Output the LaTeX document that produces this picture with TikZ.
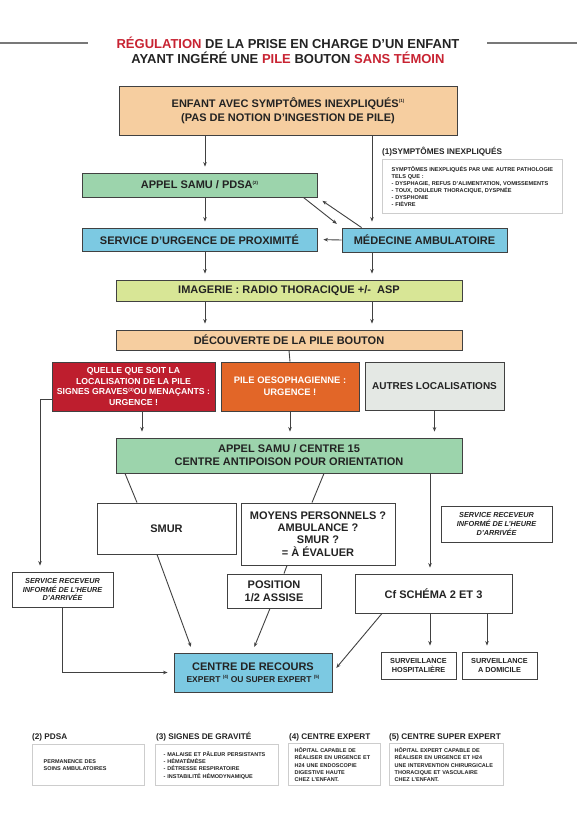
\documentclass[tikz,border=0pt]{standalone}
\usepackage{fontspec}
\setmainfont{Liberation Sans}
\usetikzlibrary{arrows.meta,calc}
\definecolor{peach}{RGB}{246,206,160}
\definecolor{samugreen}{RGB}{156,212,172}
\definecolor{urgblue}{RGB}{124,201,226}
\definecolor{imglime}{RGB}{216,230,150}
\definecolor{gravered}{RGB}{190,30,46}
\definecolor{oesoorange}{RGB}{226,102,40}
\definecolor{autregray}{RGB}{228,232,228}
\definecolor{edge}{RGB}{65,65,65}
\definecolor{txt}{RGB}{35,35,35}
\definecolor{titlered}{RGB}{200,35,50}
\definecolor{legendedge}{RGB}{205,205,205}
\definecolor{rulegray}{RGB}{120,120,120}
\newcommand{\refnote}[1]{\raisebox{0.8ex}{\fontsize{4.5}{5}\selectfont(#1)}}

\begin{document}
\begin{tikzpicture}[
        x=1pt, y=-1pt,
        every node/.style={inner sep=0pt, text=txt},
        bx/.style={shape=rectangle, draw=edge, line width=0.9pt, align=center, font=\bfseries\fontsize{11}{13}\selectfont},
        wbx/.style={bx, fill=white},
        recv/.style={wbx, font=\bfseries\itshape\fontsize{7.3}{8.6}\selectfont},
        survbx/.style={wbx, font=\bfseries\fontsize{7.3}{9}\selectfont, minimum width=75pt, minimum height=27pt},
        notelabel/.style={anchor=west, font=\bfseries\fontsize{8.2}{9}\selectfont},
        notebox/.style={shape=rectangle, draw=legendedge, line width=1.4pt, anchor=north west, align=left, font=\bfseries\fontsize{5.5}{7.3}\selectfont},
        arr/.style={-{Stealth[length=4.5pt,width=3.6pt]}, draw=edge, line width=0.9pt, shorten >=6pt},
        ln/.style={draw=edge, line width=0.9pt},
        titlerule/.style={draw=rulegray, line width=1.2pt},
        ]
        \path[use as bounding box, fill=white] (0,0) rectangle (577,815);
        %
        \draw[titlerule] (0,43) -- (88,43);
        \draw[titlerule] (487,43) -- (577,43);
        \node(title)[font=\bfseries\fontsize{13}{15}\selectfont, align=center] at (288,50.5)
          {\textcolor{titlered}{RÉGULATION} DE LA PRISE EN CHARGE D’UN ENFANT\\AYANT INGÉRÉ UNE \textcolor{titlered}{PILE} BOUTON \textcolor{titlered}{SANS TÉMOIN}};
        %
        \node(enfant)[bx, fill=peach, font=\bfseries\fontsize{11}{14}\selectfont, minimum width=338pt, minimum height=49pt] at (288,110.5)
          {ENFANT AVEC SYMPTÔMES INEXPLIQUÉS\refnote{1}\\(PAS DE NOTION D’INGESTION DE PILE)};
        \node(pdsa)[bx, fill=samugreen, minimum width=235pt, minimum height=24pt] at (199.5,185) {APPEL SAMU / PDSA\refnote{2}};
        \node(sup)[bx, fill=urgblue, minimum width=235pt, minimum height=23pt] at (199.5,239.5) {SERVICE D’URGENCE DE PROXIMITÉ};
        \node(medamb)[bx, fill=urgblue, minimum width=165pt, minimum height=24pt] at (424.5,240) {MÉDECINE AMBULATOIRE};
        \node(imagerie)[bx, fill=imglime, minimum width=346pt, minimum height=21pt] at (289,290.5) {IMAGERIE : RADIO THORACIQUE +/-\ \ ASP};
        \node(decouverte)[bx, fill=peach, minimum width=346pt, minimum height=20pt] at (289,340) {DÉCOUVERTE DE LA PILE BOUTON};
        \node(grave)[bx, fill=gravered, text=white, font=\bfseries\fontsize{8.7}{10.5}\selectfont, minimum width=163pt, minimum height=49pt] at (133.5,386.5)
          {QUELLE QUE SOIT LA\\LOCALISATION DE LA PILE\\SIGNES GRAVES\refnote{3}OU MENAÇANTS :\\URGENCE !};
        \node(oeso)[bx, fill=oesoorange, text=white, font=\bfseries\fontsize{9.4}{12.3}\selectfont, minimum width=138pt, minimum height=49pt] at (290,386.5)
          {PILE OESOPHAGIENNE :\\URGENCE !};
        \node(autres)[bx, fill=autregray, font=\bfseries\fontsize{10}{12}\selectfont, minimum width=139pt, minimum height=48pt] at (434.5,386) {AUTRES LOCALISATIONS};
        \node(samu15)[bx, fill=samugreen, minimum width=346pt, minimum height=35pt] at (289,455.5)
          {APPEL SAMU / CENTRE 15\\CENTRE ANTIPOISON POUR ORIENTATION};
        \node(smur)[wbx, minimum width=139pt, minimum height=51pt] at (166.5,528.5) {SMUR};
        \node(moyens)[wbx, font=\bfseries\fontsize{11}{12.4}\selectfont, minimum width=154pt, minimum height=62pt] at (318,534)
          {MOYENS PERSONNELS ?\\AMBULANCE ?\\SMUR ?\\= À ÉVALUER};
        \node(position)[wbx, minimum width=94pt, minimum height=34pt] at (274,591) {POSITION\\1/2 ASSISE};
        \node(cfschema)[wbx, minimum width=157pt, minimum height=39pt] at (433.5,593.5) {Cf SCHÉMA 2 ET 3};
        \node(recgauche)[recv, minimum width=101pt, minimum height=35pt] at (62.5,589.5) {SERVICE RECEVEUR\\INFORMÉ DE L’HEURE\\D’ARRIVÉE};
        \node(recdroite)[recv, minimum width=111pt, minimum height=36pt] at (496.5,524) {SERVICE RECEVEUR\\INFORMÉ DE L’HEURE\\D’ARRIVÉE};
        \node(recours)[bx, fill=urgblue, minimum width=158pt, minimum height=39pt] at (253,672.5)
          {CENTRE DE RECOURS\\[-1.5pt]{\fontsize{8.5}{10}\selectfont EXPERT \refnote{4} OU SUPER EXPERT \refnote{5}}};
        \node(survhosp)[survbx] at (418.5,665.5) {SURVEILLANCE\\HOSPITALIÈRE};
        \node(survdom)[survbx] at (499.5,665.5) {SURVEILLANCE\\A DOMICILE};
        %
        \node(noteun)[notelabel] at (382,152) {(1)SYMPTÔMES INEXPLIQUÉS};
        \node(noteunbox)[notebox, text width=162pt, minimum width=180pt, minimum height=54pt, font=\bfseries\fontsize{5.6}{6.9}\selectfont] at (382,159)
          {SYMPTÔMES INEXPLIQUÉS PAR UNE AUTRE PATHOLOGIE\\TELS QUE :\\- DYSPHAGIE, REFUS D’ALIMENTATION, VOMISSEMENTS\\- TOUX, DOULEUR THORACIQUE, DYSPNÉE\\- DYSPHONIE\\- FIÈVRE};
        \node(notedeux)[notelabel] at (32,737) {(2) PDSA};
        \node(notedeuxbox)[notebox, text width=90pt, minimum width=112pt, minimum height=41pt] at (32,744)
          {PERMANENCE DES\\SOINS AMBULATOIRES};
        \node(notetrois)[notelabel] at (156,737) {(3) SIGNES DE GRAVITÉ};
        \node(notetroisbox)[notebox, text width=107pt, minimum width=123pt, minimum height=41pt] at (155,744)
          {- MALAISE ET PÂLEUR PERSISTANTS\\- HÉMATÉMÈSE\\- DÉTRESSE RESPIRATOIRE\\- INSTABILITÉ HÉMODYNAMIQUE};
        \node(notequatre)[notelabel] at (289,737) {(4) CENTRE EXPERT};
        \node(notequatrebox)[notebox, text width=80pt, minimum width=92pt, minimum height=42pt] at (288,743)
          {HÔPITAL CAPABLE DE\\RÉALISER EN URGENCE ET\\H24 UNE ENDOSCOPIE\\DIGESTIVE HAUTE\\CHEZ L’ENFANT.};
        \node(notecinq)[notelabel] at (389,737) {(5) CENTRE SUPER EXPERT};
        \node(notecinqbox)[notebox, text width=104pt, minimum width=114pt, minimum height=42pt] at (389,743)
          {HÔPITAL EXPERT CAPABLE DE\\RÉALISER EN URGENCE ET H24\\UNE INTERVENTION CHIRURGICALE\\THORACIQUE ET VASCULAIRE\\CHEZ L’ENFANT.};
        %
        \coordinate (colL) at (205,0);
        \coordinate (colR) at (372,0);
        \coordinate (colG) at (142,0);
        \coordinate (colF) at (40,0);
        \coordinate (colC) at (430,0);
        \coordinate (colD) at (487,0);
        \draw[arr] (enfant.south -| colL) -- (pdsa.north -| colL);
        \draw[arr] (enfant.south -| colR) -- (medamb.north -| colR);
        \draw[arr] (pdsa.south -| colL) -- (sup.north -| colL);
        \draw[arr] ([xshift=-14pt]pdsa.south east) -- (medamb.north west);
        \draw[arr] ([xshift=20pt]medamb.north west) -- (pdsa.south east);
        \draw[arr] (medamb.west) -- (sup.east);
        \draw[arr] (sup.south -| colL) -- (imagerie.north -| colL);
        \draw[arr] (medamb.south -| colR) -- (imagerie.north -| colR);
        \draw[arr] (imagerie.south -| colL) -- (decouverte.north -| colL);
        \draw[arr] (imagerie.south -| colR) -- (decouverte.north -| colR);
        \draw[ln] (decouverte.south) -- (oeso.north);
        \draw[arr] (grave.south -| colG) -- (samu15.north -| colG);
        \draw[arr] (oeso.south) -- (samu15.north -| oeso.south);
        \draw[arr] (autres.south) -- (samu15.north -| autres.south);
        \draw[arr] ([yshift=-12.5pt]grave.west) -| (recgauche.north -| colF);
        \draw[ln] ([xshift=-164pt]samu15.south) -- ([xshift=-29.5pt]smur.north);
        \draw[ln] ([xshift=35pt]samu15.south) -- ([xshift=-6pt]moyens.north);
        \draw[arr] (samu15.south -| colC) -- (cfschema.north -| colC);
        \draw[arr] ([xshift=-9.5pt]smur.south) -- ([xshift=-60pt]recours.north);
        \draw[ln] ([xshift=-31pt]moyens.south) -- ([xshift=10pt]position.north);
        \draw[arr] ([xshift=-4pt]position.south) -- ([xshift=-1pt]recours.north);
        \draw[arr] (recgauche.south) |- (recours.west);
        \draw[arr] ([xshift=-51.5pt]cfschema.south) -- (recours.east);
        \draw[arr] (cfschema.south -| colC) -- (survhosp.north -| colC);
        \draw[arr] (cfschema.south -| colD) -- (survdom.north -| colD);
      \end{tikzpicture}
\end{document}
